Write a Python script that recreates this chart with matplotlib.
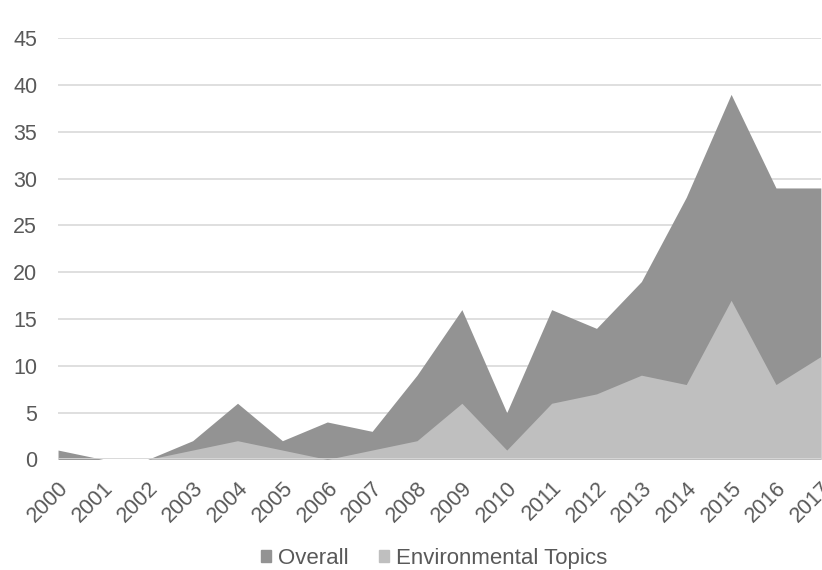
import matplotlib
matplotlib.use("Agg")
import matplotlib.pyplot as plt
from matplotlib.patches import Patch

plt.rcParams['font.family'] = ['Liberation Sans', 'DejaVu Sans']

years = [2000, 2001, 2002, 2003, 2004, 2005, 2006, 2007, 2008,
         2009, 2010, 2011, 2012, 2013, 2014, 2015, 2016, 2017]
overall = [1, 0, 0, 2, 6, 2, 4, 3, 9, 16, 5, 16, 14, 19, 28, 39, 29, 29]
environmental = [0, 0, 0, 1, 2, 1, 0, 1, 2, 6, 1, 6, 7, 9, 8, 17, 8, 11]
y_ticks = [0, 5, 10, 15, 20, 25, 30, 35, 40, 45]

c_overall = '#939393'
c_env = '#bfbfbf'
text_c = '#595959'

fig = plt.figure(figsize=(8.22, 5.70), dpi=100)
ax = fig.add_axes([0.0706, 0.194, 0.928, 0.739])

ax.fill_between(years, 0, overall, color=c_overall, linewidth=0, zorder=2)
ax.fill_between(years, 0, environmental, color=c_env, linewidth=0, zorder=3)

ax.set_xlim(years[0], years[-1])
ax.set_ylim(0, 45)
ax.set_yticks(y_ticks)
ax.set_xticks(years)
ax.set_xticklabels([str(y) for y in years], rotation=45, ha='right',
                   rotation_mode='anchor')

ax.grid(axis='y', color='#d9d9d9', linewidth=1.2, zorder=1)
ax.set_axisbelow(True)
for s in ax.spines.values():
    s.set_visible(False)
ax.tick_params(axis='both', length=0, labelsize=15.5, colors=text_c)
ax.tick_params(axis='y', pad=15)
ax.tick_params(axis='x', pad=13)
ax.axhline(0, color='#d9d9d9', linewidth=1.2, zorder=4)

handles = [Patch(color=c_overall, label='Overall'),
           Patch(color=c_env, label='Environmental Topics')]
fig.legend(handles=handles, loc='center', bbox_to_anchor=(0.528, 0.021),
           ncol=2, frameon=False, fontsize=16, labelcolor=text_c,
           handlelength=0.45, handleheight=0.45, handletextpad=0.3,
           columnspacing=1.4, borderpad=0.1)

fig.savefig('out.png', dpi=100)
